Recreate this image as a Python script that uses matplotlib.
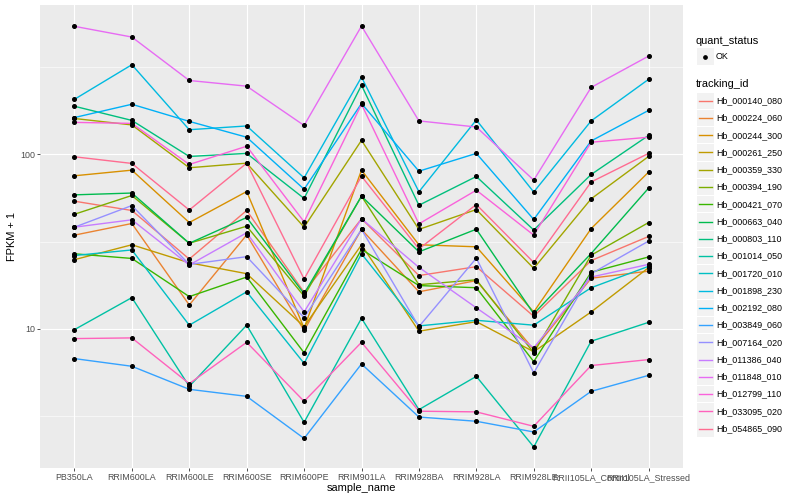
import matplotlib
matplotlib.use("Agg")
import matplotlib.pyplot as plt
import numpy as np
from matplotlib.patches import Rectangle
from matplotlib.lines import Line2D

plt.rcParams['font.family'] = ['Liberation Sans', 'DejaVu Sans']

samples = ["PB350LA", "RRIM600LA", "RRIM600LE", "RRIM600SE", "RRIM600PE", "RRIM901LA",
           "RRIM928BA", "RRIM928LA", "RRIM928LE", "RRII105LA_Control", "RRII105LA_Stressed"]

tracking_ids = ["Hb_000140_080", "Hb_000224_060", "Hb_000244_300", "Hb_000261_250",
                "Hb_000359_330", "Hb_000394_190", "Hb_000421_070", "Hb_000663_040",
                "Hb_000803_110", "Hb_001014_050", "Hb_001720_010", "Hb_001898_230",
                "Hb_002192_080", "Hb_003849_060", "Hb_007164_020", "Hb_011386_040",
                "Hb_011848_010", "Hb_012799_110", "Hb_033095_020", "Hb_054865_090"]

line_colors = ["#F8766D", "#EA8331", "#D89000", "#C09B00", "#A3A500", "#7CAE00", "#39B600",
               "#00BB4E", "#00BF7D", "#00C1A3", "#00BFC4", "#00BAE0", "#00B0F6", "#35A2FF",
               "#9590FF", "#C77CFF", "#E76BF3", "#FA62DB", "#FF62BC", "#FF6C91"]

# FPKM + 1 per sample
hb_000140_080 = [53.8, 47.6, 25.1, 47.6, 16.2, 42.7, 20.2, 22.7, 11.8, 24.6, 33.8]
hb_000224_060 = [34.4, 40.1, 13.7, 34.5, 9.8, 37.1, 16.3, 18.9, 7.6, 19.5, 21.4]
hb_000244_300 = [75.2, 81.0, 40.6, 61.1, 10.1, 81.0, 30.3, 29.5, 12.5, 37.5, 78.9]
hb_000261_250 = [24.9, 30.3, 23.9, 20.7, 10.3, 30.3, 9.7, 11.0, 7.4, 12.5, 22.4]
hb_000359_330 = [160, 147, 83.6, 88.8, 38.2, 120, 37.1, 48.2, 22.2, 55.5, 97.0]
hb_000394_190 = [45.3, 58.0, 30.9, 38.7, 15.4, 57.5, 17.9, 19.1, 7.3, 26.4, 40.6]
hb_000421_070 = [26.9, 25.3, 15.3, 19.8, 7.3, 28.5, 17.7, 17.2, 6.5, 21.1, 25.8]
hb_000663_040 = [58.5, 59.9, 30.9, 43.4, 15.9, 57.5, 27.6, 37.2, 12.2, 27.0, 63.9]
hb_000803_110 = [188, 156, 97.0, 101, 55.8, 248, 51.0, 74.5, 36.8, 76.5, 128]
hb_001014_050 = [9.9, 15.1, 4.69, 10.5, 2.92, 11.5, 3.45, 5.35, 2.11, 8.5, 10.9]
hb_001720_010 = [26.3, 28.3, 10.5, 16.3, 6.35, 26.9, 10.4, 11.2, 10.5, 17.2, 22.8]
hb_001898_230 = [206, 325, 138, 145, 73.2, 276, 60.9, 157, 60.7, 155, 268]
hb_002192_080 = [162, 193, 154, 125, 63.0, 195, 79.9, 101, 42.3, 119, 178]
hb_003849_060 = [6.76, 6.11, 4.51, 4.11, 2.36, 6.30, 3.13, 2.96, 2.57, 4.39, 5.42]
hb_007164_020 = [38.2, 50.8, 23.4, 25.9, 11.6, 37.1, 10.3, 25.4, 5.60, 20.7, 31.8]
hb_011386_040 = [38.2, 42.1, 23.2, 35.5, 12.5, 42.7, 22.5, 13.2, 7.8, 19.8, 23.4]
hb_011848_010 = [539, 468, 264, 245, 146, 541, 155, 143, 71, 241, 364]
hb_012799_110 = [152, 150, 87.3, 111, 41.0, 193, 39.9, 62.2, 34.4, 117, 125]
hb_033095_020 = [8.80, 8.88, 4.86, 8.38, 3.85, 8.38, 3.38, 3.35, 2.77, 6.17, 6.67]
hb_054865_090 = [96.6, 88.5, 47.9, 88.8, 19.3, 74.8, 28.7, 51.5, 24.0, 69.3, 101]

series = [hb_000140_080, hb_000224_060, hb_000244_300, hb_000261_250, hb_000359_330,
          hb_000394_190, hb_000421_070, hb_000663_040, hb_000803_110, hb_001014_050,
          hb_001720_010, hb_001898_230, hb_002192_080, hb_003849_060, hb_007164_020,
          hb_011386_040, hb_011848_010, hb_012799_110, hb_033095_020, hb_054865_090]

W, H = 800, 500
fig = plt.figure(figsize=(W / 100, H / 100), dpi=100)
fig.patch.set_facecolor('white')

L, R, T, B = 40, 683, 5, 468
ax = fig.add_axes([L / W, 1 - B / H, (R - L) / W, (B - T) / H])
ax.set_facecolor('#EBEBEB')
ax.set_yscale('log')

x = np.arange(len(samples))
for vals, col in zip(series, line_colors):
    ax.plot(x, vals, color=col, lw=1.0, zorder=2, solid_capstyle='round')
for vals in series:
    ax.plot(x, vals, linestyle='none', marker='o', markersize=2.6,
            color='black', zorder=3)

allv = np.concatenate([np.asarray(s, float) for s in series])
lo, hi = np.log10(allv.min()), np.log10(allv.max())
pad = (hi - lo) * 0.05
ax.set_ylim(10 ** (lo - pad), 10 ** (hi + pad))
ax.set_xlim(-0.6, len(samples) - 1 + 0.6)

ax.set_yticks([10, 100])
ax.set_yticklabels(["10", "100"])
ax.set_yticks([10 ** 0.5, 10 ** 1.5, 10 ** 2.5], minor=True)
ax.yaxis.set_minor_formatter(matplotlib.ticker.NullFormatter())
ax.set_xticks(x)
ax.set_xticklabels(samples)

ax.grid(True, which='major', color='white', lw=0.8)
ax.grid(True, which='minor', axis='y', color='white', lw=0.4)
ax.set_axisbelow(True)
for s in ax.spines.values():
    s.set_visible(False)
ax.tick_params(which='major', length=2.0, width=0.6, color='#333333',
               labelsize=6.4, labelcolor='#4D4D4D', pad=1.5)
ax.tick_params(which='minor', length=0)

fig.text(361.5 / W, 1 - 488 / H, 'sample_name', ha='center', va='center', fontsize=7.9)
fig.text(12 / W, 1 - 236.5 / H, 'FPKM + 1', ha='center', va='center', fontsize=7.9,
         rotation=90)

def fx(px):
    return px / W

def fy(py):
    return 1 - py / H

# legend: quant_status
fig.text(fx(696), fy(40.7), 'quant_status', ha='left', va='center', fontsize=7.9)
fig.add_artist(Rectangle((fx(696.5), fy(65)), 17 / W, 16.5 / H, transform=fig.transFigure,
                         facecolor='#F2F2F2', edgecolor='none'))
fig.add_artist(Line2D([fx(705)], [fy(56.7)], marker='o', markersize=2.4, color='black',
                      linestyle='none', transform=fig.transFigure))
fig.text(fx(716), fy(56.7), 'OK', ha='left', va='center', fontsize=6.4)

# legend: tracking_id
fig.text(fx(696), fy(84.3), 'tracking_id', ha='left', va='center', fontsize=7.9)
step = 17.26
for i, (tid, col) in enumerate(zip(tracking_ids, line_colors)):
    cy = 100.7 + i * step
    fig.add_artist(Rectangle((fx(696.5), fy(cy + 8.2)), 17 / W, 16.4 / H,
                             transform=fig.transFigure, facecolor='#F2F2F2',
                             edgecolor='none'))
    fig.add_artist(Line2D([fx(698.5), fx(711.5)], [fy(cy), fy(cy)], color=col, lw=1.0,
                          transform=fig.transFigure))
    fig.text(fx(716.5), fy(cy), tid, ha='left', va='center', fontsize=6.4)

fig.savefig('out.png', dpi=100)
